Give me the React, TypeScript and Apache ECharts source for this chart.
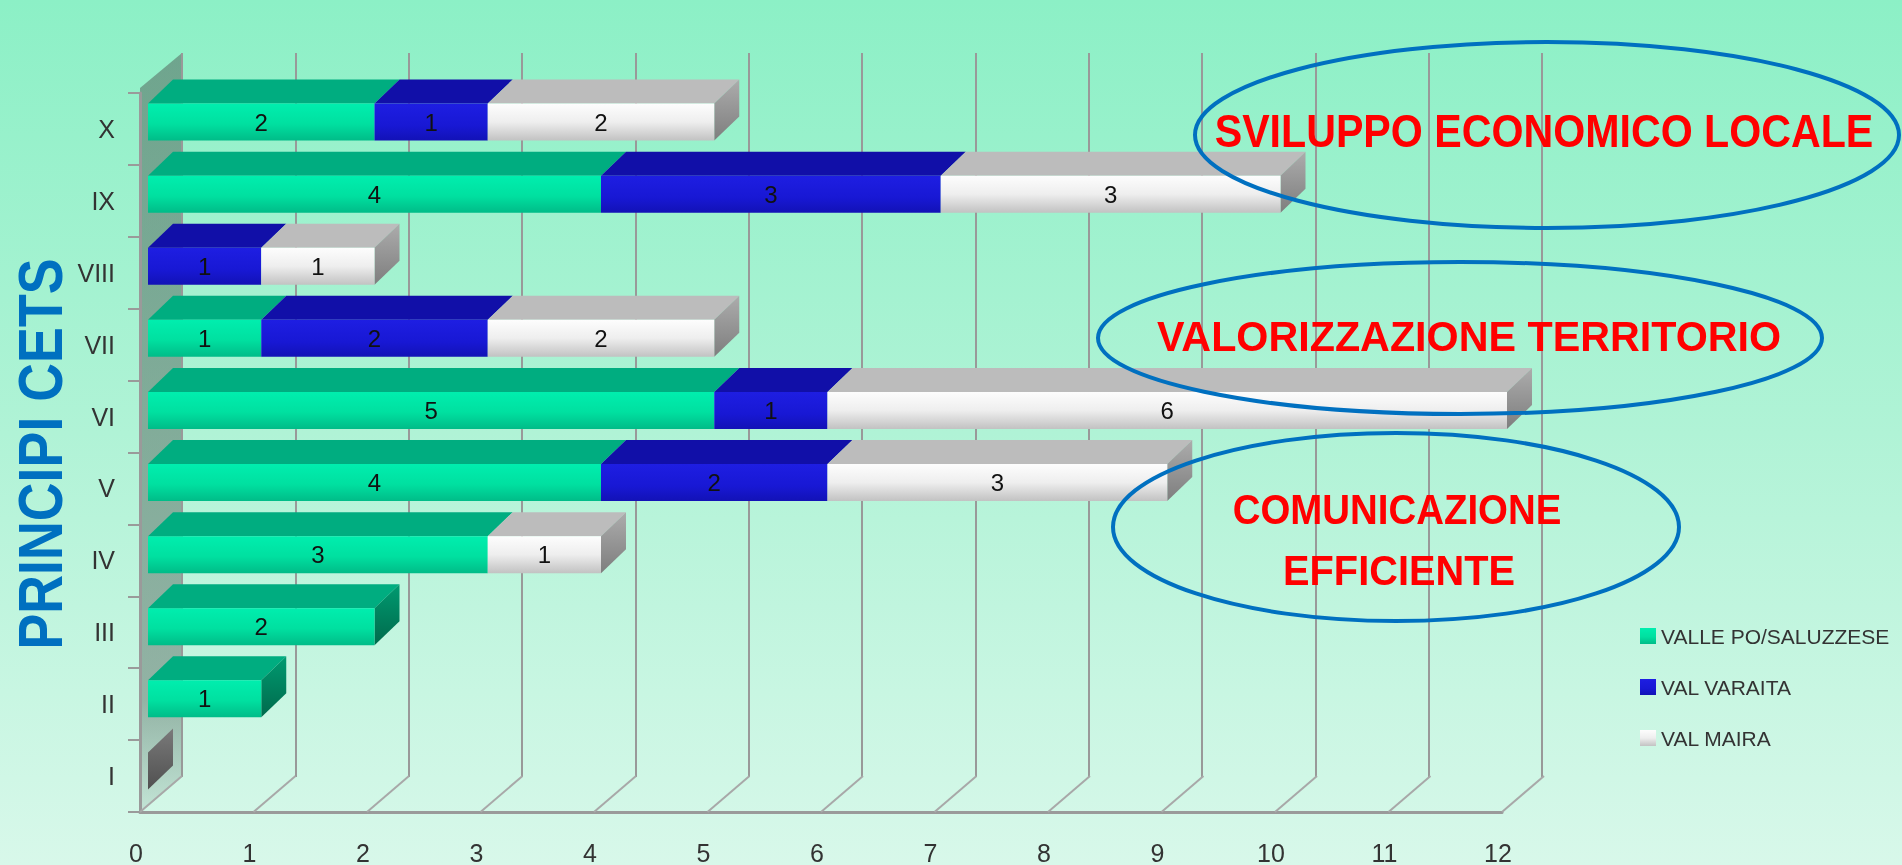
import React, { useEffect, useRef } from "react";
import * as echarts from "echarts";

// ---------- data ----------
const categories = ["I", "II", "III", "IV", "V", "VI", "VII", "VIII", "IX", "X"];
const seriesNames = ["VALLE PO/SALUZZESE", "VAL VARAITA", "VAL MAIRA"];
const vallePo = [0, 1, 2, 3, 4, 5, 1, 0, 4, 2];
const valVaraita = [0, 0, 0, 0, 2, 1, 2, 1, 3, 1];
const valMaira = [0, 0, 0, 1, 3, 6, 2, 1, 3, 2];
const xTicks = [0, 1, 2, 3, 4, 5, 6, 7, 8, 9, 10, 11, 12];
const axisTitle = "PRINCIPI CETS";
const notes = ["SVILUPPO ECONOMICO LOCALE", "VALORIZZAZIONE TERRITORIO", "COMUNICAZIONE", "EFFICIENTE"];

// ---------- style ----------
const BAR_W = 37;
const DX = 25;
const DY = 24;
const FLOOR_DX = 42;
const FLOOR_DY = 36;
const FONT = "'Liberation Sans', Arial, sans-serif";

const lg = (stops: [number, string][]) => ({
  type: "linear",
  x: 0,
  y: 0,
  x2: 0,
  y2: 1,
  colorStops: stops.map(([offset, color]) => ({ offset, color })),
});

const frontColors = [
  lg([[0, "#00eeae"], [0.55, "#00e0a0"], [1, "#00bc88"]]),
  lg([[0, "#1e1ee2"], [0.6, "#1818d4"], [1, "#1212b6"]]),
  lg([[0, "#fdfdfd"], [0.5, "#eeeeee"], [1, "#c2c2c2"]]),
];
const topColors = ["#00ad80", "#110fa8", "#bcbcbc"];
const sideColors = [
  lg([[0, "#009a70"], [1, "#006a4c"]]),
  lg([[0, "#0c0c98"], [1, "#08086e"]]),
  lg([[0, "#acacac"], [1, "#7e7e7e"]]),
  lg([[0, "#7a7a7a"], [1, "#505050"]]),
];

const seriesVals = [vallePo, valVaraita, valMaira];

export default function App() {
  const ref = useRef<HTMLDivElement>(null);

  useEffect(() => {
    if (!ref.current) return;
    const chart = echarts.init(ref.current, undefined, { renderer: "svg" });

    const topsData: number[][] = [];
    const capsData: number[][] = [];
    categories.forEach((_, i) => {
      let acc = 0;
      let last = 3;
      seriesVals.forEach((vals, k) => {
        const v = vals[i];
        topsData.push([acc, acc + v, i, k]);
        acc += v;
        if (v > 0) last = k;
      });
      capsData.push([acc, i, last]);
    });

    const option: any = {
      animation: false,
      grid: [
        { left: 140, top: 93, width: 1362, height: 720 }, // front plane
        { left: 148, top: 86, width: 1359, height: 721 }, // bar plane
        { left: 182, top: 53, width: 1360, height: 724 }, // back wall
      ],
      xAxis: [
        {
          gridIndex: 0,
          type: "value",
          min: 0,
          max: 12,
          interval: 1,
          splitLine: { show: false },
          axisLine: { show: true, lineStyle: { color: "#9a9a9a", width: 3 } },
          axisTick: { show: false },
          axisLabel: {
            color: "#333",
            fontSize: 25,
            fontFamily: FONT,
            margin: 28,
            padding: [0, 8, 0, 0],
          },
        },
        { gridIndex: 1, type: "value", min: 0, max: 12, interval: 1, show: false },
        {
          gridIndex: 2,
          type: "value",
          min: 0,
          max: 12,
          interval: 1,
          axisLine: { show: false },
          axisTick: { show: false },
          axisLabel: { show: false },
          splitLine: { show: true, lineStyle: { color: "#999", width: 2 } },
        },
      ],
      yAxis: [
        {
          gridIndex: 0,
          type: "category",
          data: categories,
          axisLine: { show: true, lineStyle: { color: "#9a9a9a", width: 3 } },
          axisTick: { show: true, length: 12, lineStyle: { color: "#9a9a9a", width: 2 } },
          axisLabel: { color: "#333", fontSize: 25, fontFamily: FONT, margin: 25 },
        },
        { gridIndex: 1, type: "category", data: categories, show: false },
        { gridIndex: 2, type: "value", show: false },
      ],
      legend: {
        orient: "vertical",
        left: 1635,
        top: 619,
        itemWidth: 16,
        itemHeight: 16,
        itemGap: 27,
        icon: "rect",
        data: seriesNames,
        textStyle: { color: "#333", fontSize: 21, lineHeight: 24, fontFamily: FONT },
      },
      graphic: [
        {
          type: "rect",
          z: -100,
          silent: true,
          shape: { x: 0, y: 0, width: 1902, height: 865 },
          style: { fill: lg([[0, "#8cf0c6"], [0.5, "#b0f3d6"], [1, "#d8f8ea"]]) },
        },
        {
          type: "polygon",
          z: -50,
          silent: true,
          shape: { points: [[140, 88], [182, 53], [182, 777], [140, 813]] },
          style: {
            fill: lg([[0, "rgba(80,95,88,0.52)"], [0.85, "rgba(80,95,88,0.45)"], [1, "rgba(80,95,88,0.12)"]]),
          },
        },
        {
          type: "text",
          z: 100,
          x: 40,
          y: 454,
          rotation: Math.PI / 2,
          scaleX: 0.853,
          style: {
            text: axisTitle,
            fill: "#0070c0",
            font: `bold 63px ${FONT}`,
            align: "center",
            verticalAlign: "middle",
          },
        },
        {
          type: "ellipse",
          z: 100,
          shape: { cx: 1547, cy: 135, rx: 352, ry: 93 },
          style: { fill: "none", stroke: "#0070c0", lineWidth: 4 },
        },
        {
          type: "ellipse",
          z: 100,
          shape: { cx: 1460, cy: 338, rx: 362, ry: 76 },
          style: { fill: "none", stroke: "#0070c0", lineWidth: 4 },
        },
        {
          type: "ellipse",
          z: 100,
          shape: { cx: 1396, cy: 527, rx: 283, ry: 94 },
          style: { fill: "none", stroke: "#0070c0", lineWidth: 4 },
        },
        {
          type: "text",
          z: 101,
          x: 1544,
          y: 131,
          scaleX: 0.895,
          style: { text: notes[0], fill: "#ff0000", font: `bold 46px ${FONT}`, align: "center", verticalAlign: "middle" },
        },
        {
          type: "text",
          z: 101,
          x: 1469,
          y: 336,
          scaleX: 0.96,
          style: { text: notes[1], fill: "#ff0000", font: `bold 43px ${FONT}`, align: "center", verticalAlign: "middle" },
        },
        {
          type: "text",
          z: 101,
          x: 1397,
          y: 510,
          scaleX: 0.915,
          style: { text: notes[2], fill: "#ff0000", font: `bold 42px ${FONT}`, align: "center", verticalAlign: "middle" },
        },
        {
          type: "text",
          z: 101,
          x: 1399,
          y: 570,
          scaleX: 0.925,
          style: { text: notes[3], fill: "#ff0000", font: `bold 43px ${FONT}`, align: "center", verticalAlign: "middle" },
        },
      ],
      series: [
        // floor diagonals
        {
          type: "custom",
          xAxisIndex: 0,
          yAxisIndex: 0,
          silent: true,
          z: 1,
          data: xTicks.map((v) => [v, 0]),
          encode: { x: 0, y: 1 },
          renderItem: (params: any, api: any) => {
            const p = api.coord([api.value(0), 0]);
            const cs = params.coordSys;
            const bottom = cs.y + cs.height;
            return {
              type: "line",
              shape: { x1: p[0], y1: bottom, x2: p[0] + FLOOR_DX, y2: bottom - FLOOR_DY },
              style: { stroke: "#a8a8a8", lineWidth: 2 },
            };
          },
        },
        ...seriesNames.map((name, k) => ({
          name,
          type: "bar",
          xAxisIndex: 1,
          yAxisIndex: 1,
          stack: "total",
          barWidth: BAR_W,
          data: seriesVals[k],
          itemStyle: { color: frontColors[k] },
          label: {
            show: true,
            position: "inside",
            color: "#111",
            fontSize: 24,
            fontFamily: FONT,
            formatter: (p: any) => (p.value > 0 ? String(p.value) : ""),
          },
          z: 3,
        })),
        // top faces
        {
          type: "custom",
          xAxisIndex: 1,
          yAxisIndex: 1,
          silent: true,
          z: 2,
          data: topsData,
          encode: { x: [0, 1], y: 2 },
          renderItem: (params: any, api: any) => {
            const s = api.value(0);
            const e = api.value(1);
            const row = api.value(2);
            const k = api.value(3);
            if (e <= s) return null;
            const a = api.coord([s, row]);
            const b = api.coord([e, row]);
            const top = a[1] - BAR_W / 2;
            return {
              type: "polygon",
              shape: {
                points: [
                  [a[0], top],
                  [b[0], top],
                  [b[0] + DX, top - DY],
                  [a[0] + DX, top - DY],
                ],
              },
              style: { fill: topColors[k] },
            };
          },
        },
        // end caps
        {
          type: "custom",
          xAxisIndex: 1,
          yAxisIndex: 1,
          silent: true,
          z: 2,
          data: capsData,
          encode: { x: 0, y: 1 },
          renderItem: (params: any, api: any) => {
            const total = api.value(0);
            const row = api.value(1);
            const k = api.value(2);
            const p = api.coord([total, row]);
            const top = p[1] - BAR_W / 2;
            const bottom = p[1] + BAR_W / 2;
            return {
              type: "polygon",
              shape: {
                points: [
                  [p[0], top],
                  [p[0] + DX, top - DY],
                  [p[0] + DX, bottom - DY],
                  [p[0], bottom],
                ],
              },
              style: { fill: sideColors[k] },
            };
          },
        },
      ],
    };

    chart.setOption(option);
    return () => chart.dispose();
  }, []);

  return (
    <div
      ref={ref}
      style={{ position: "fixed", left: 0, top: 0, width: 1902, height: 865 }}
    />
  );
}
